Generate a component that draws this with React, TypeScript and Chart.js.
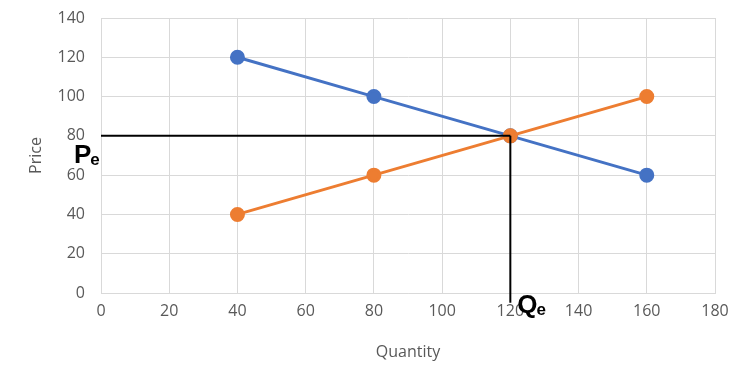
import React, { useEffect, useRef } from "react";
import { Chart, registerables } from "chart.js";

Chart.register(...registerables);

const demandQty = [40, 80, 120, 160];
const demandPrice = [120, 100, 80, 60];
const supplyQty = [40, 80, 120, 160];
const supplyPrice = [40, 60, 80, 100];
const eqPrice = 80;
const eqQty = 120;
const eqLineBottom = -5;
const xTitle = "Quantity";
const yTitle = "Price";

const labelPlugin = {
  id: "eqLabels",
  afterDatasetsDraw(chart: any) {
    const { ctx, scales } = chart;
    const xs = scales.x;
    const ys = scales.y;
    const drawSub = (main: string, sub: string, x: number, y: number) => {
      ctx.save();
      ctx.fillStyle = "#000";
      ctx.textBaseline = "alphabetic";
      ctx.textAlign = "left";
      ctx.font = "bold 26px 'Liberation Sans', Arial, sans-serif";
      ctx.fillText(main, x, y);
      const w = ctx.measureText(main).width;
      ctx.font = "bold 17px 'Liberation Sans', Arial, sans-serif";
      ctx.fillText(sub, x + w - 1, y + 2);
      ctx.restore();
    };
    drawSub("P", "e", xs.getPixelForValue(0) - 27, ys.getPixelForValue(eqPrice) + 27);
    drawSub("Q", "e", xs.getPixelForValue(eqQty) + 7, ys.getPixelForValue(0) + 20);
  },
};

export default function App() {
  const ref = useRef<HTMLCanvasElement>(null);
  useEffect(() => {
    if (!ref.current) return;
    const font = { family: "'Open Sans', sans-serif", size: 16 };
    const chart = new Chart(ref.current, {
      type: "line",
      data: {
        datasets: [
          {
            label: "Demand",
            data: demandQty.map((q, i) => ({ x: q, y: demandPrice[i] })),
            borderColor: "#4472C4",
            backgroundColor: "#4472C4",
            borderWidth: 3,
            pointRadius: 6,
            order: 2,
          },
          {
            label: "Supply",
            data: supplyQty.map((q, i) => ({ x: q, y: supplyPrice[i] })),
            borderColor: "#ED7D31",
            backgroundColor: "#ED7D31",
            borderWidth: 3,
            pointRadius: 6,
            order: 1,
          },
          {
            label: "Pe",
            data: [
              { x: 0, y: eqPrice },
              { x: eqQty, y: eqPrice },
            ],
            borderColor: "#000",
            borderWidth: 2,
            pointRadius: 0,
            order: 0,
          },
          {
            label: "Qe",
            data: [
              { x: eqQty, y: eqPrice },
              { x: eqQty, y: eqLineBottom },
            ],
            borderColor: "#000",
            borderWidth: 2,
            pointRadius: 0,
            clip: false as any,
            order: 0,
          },
        ],
      },
      options: {
        animation: false,
        responsive: false,
        maintainAspectRatio: false,
        layout: { padding: { top: 18, right: 35, left: 0, bottom: 0 } },
        plugins: { legend: { display: false }, tooltip: { enabled: false } },
        scales: {
          x: {
            type: "linear",
            min: 0,
            max: 180,
            ticks: { stepSize: 20, color: "#595959", font, padding: 9 },
            grid: { color: "#d9d9d9", drawTicks: false },
            border: { color: "#d9d9d9" },
            title: { display: true, text: xTitle, color: "#595959", font, padding: { top: 0, bottom: 13 } },
            afterFit: (s: any) => {
              s.height = 82;
              s.paddingLeft = 0;
              s.paddingRight = 0;
            },
          },
          y: {
            type: "linear",
            min: 0,
            max: 140,
            ticks: { stepSize: 20, color: "#595959", font, padding: 16 },
            grid: { color: "#d9d9d9", drawTicks: false },
            border: { color: "#d9d9d9" },
            title: { display: true, text: yTitle, color: "#595959", font, padding: { top: 27, bottom: 0 } },
            afterFit: (s: any) => {
              s.width = 101;
              s.paddingTop = 0;
              s.paddingBottom = 0;
            },
          },
        },
      },
      plugins: [labelPlugin],
    });
    return () => chart.destroy();
  }, []);
  return (
    <div style={{ position: "fixed", left: 0, top: 0, width: 750, height: 375, background: "#fff" }}>
      <canvas ref={ref} width={750} height={375} style={{ width: 750, height: 375 }} />
    </div>
  );
}
